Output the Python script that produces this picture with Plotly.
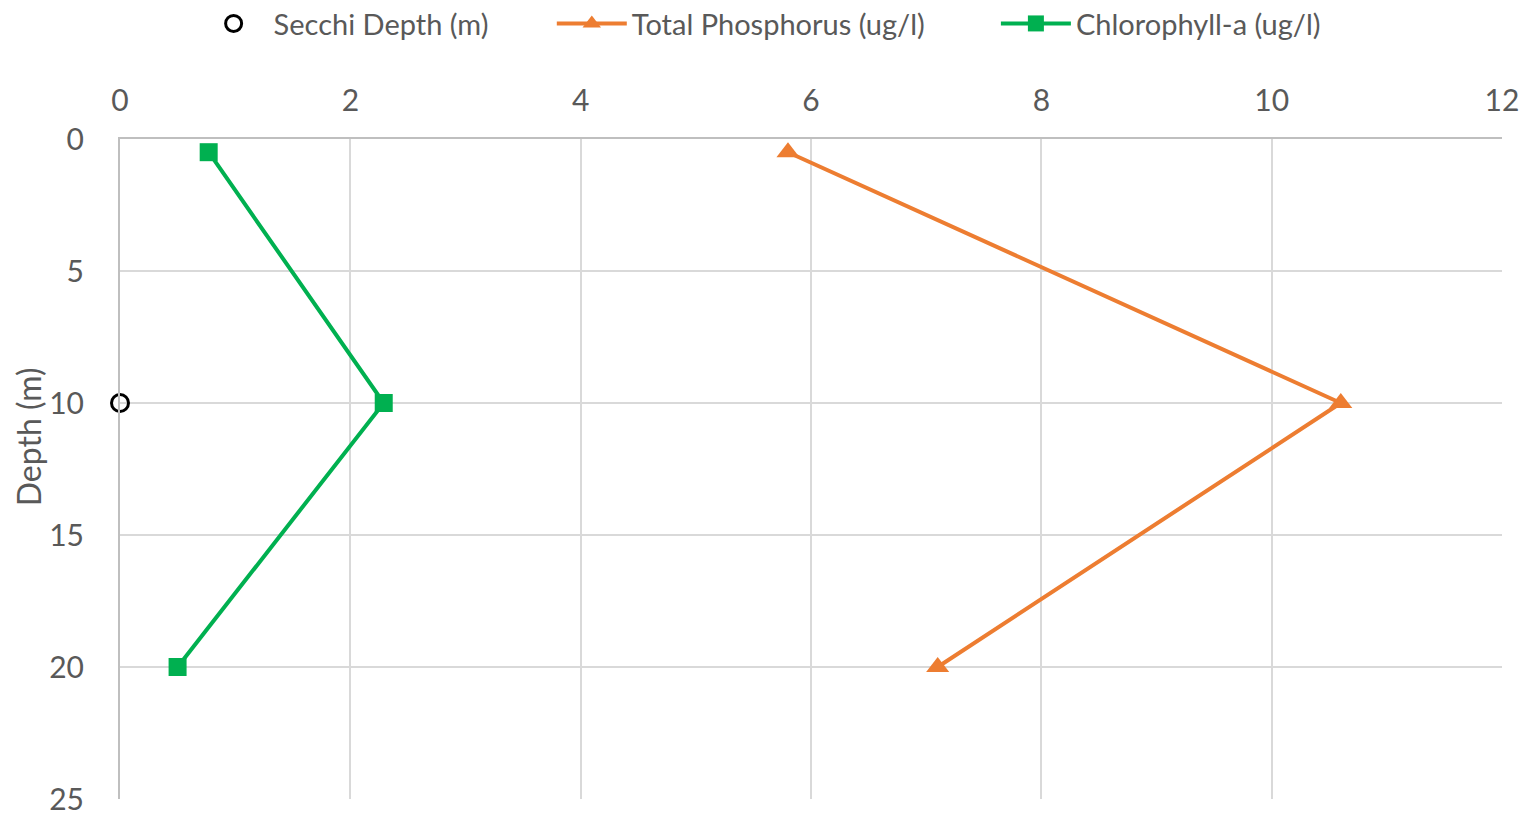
import plotly.graph_objects as go

depth = [0.5, 10, 20]
total_phosphorus = [5.8, 10.6, 7.1]
chlorophyll_a = [0.77, 2.29, 0.5]
secchi_x = [0]
secchi_depth = [10]

x_ticks = [0, 2, 4, 6, 8, 10, 12]
y_ticks = [0, 5, 10, 15, 20, 25]

font_family = "Lato, Open Sans, sans-serif"
gray = "#595959"

fig = go.Figure()
fig.add_trace(go.Scatter(
    x=secchi_x, y=secchi_depth, mode="markers", name="Secchi Depth (m)",
    marker=dict(symbol="circle-open", size=17, color="black", line=dict(width=3, color="black")),
    cliponaxis=False, legend="legend",
))
fig.add_trace(go.Scatter(
    x=total_phosphorus, y=depth, mode="lines+markers", name="Total Phosphorus (ug/l)",
    line=dict(color="#ED7D31", width=4),
    marker=dict(symbol="triangle-up", size=20, color="#ED7D31"),
    legend="legend2",
))
fig.add_trace(go.Scatter(
    x=chlorophyll_a, y=depth, mode="lines+markers", name="Chlorophyll-a (ug/l)",
    line=dict(color="#00B050", width=4),
    marker=dict(symbol="square", size=18, color="#00B050"),
    legend="legend3",
))

leg_common = dict(orientation="h", xanchor="left", yanchor="middle", y=0.981,
                  xref="container", yref="container",
                  font=dict(size=29, color=gray), itemwidth=70,
                  bgcolor="rgba(0,0,0,0)")

fig.update_layout(
    width=1534, height=820,
    paper_bgcolor="white", plot_bgcolor="white",
    margin=dict(l=112, r=40, t=131, b=19),
    font=dict(family=font_family, size=30, color=gray),
    showlegend=True,
    legend=dict(x=0.121, **leg_common),
    legend2=dict(x=0.3545, **leg_common),
    legend3=dict(x=0.644, **leg_common),
    xaxis=dict(range=[0, 12], tickvals=x_ticks, side="top", showgrid=True,
               gridcolor="#d9d9d9", gridwidth=2, zeroline=False,
               showline=True, linecolor="#bfbfbf", linewidth=2, mirror=False,
               ticks="", ticklabelstandoff=14, tickfont=dict(size=30, color=gray)),
    yaxis=dict(range=[25, 0], tickvals=y_ticks, showgrid=True,
               gridcolor="#d9d9d9", gridwidth=2, zeroline=False,
               showline=True, linecolor="#bfbfbf", linewidth=2,
               ticks="", ticklabelstandoff=28, tickfont=dict(size=30, color=gray)),
    annotations=[dict(text="Depth (m)", textangle=-90, xref="paper", yref="paper",
                      x=0, y=0.548, xanchor="center", yanchor="middle", xshift=-92,
                      showarrow=False, font=dict(size=32, color=gray))],
)

fig.write_html("out.html")
